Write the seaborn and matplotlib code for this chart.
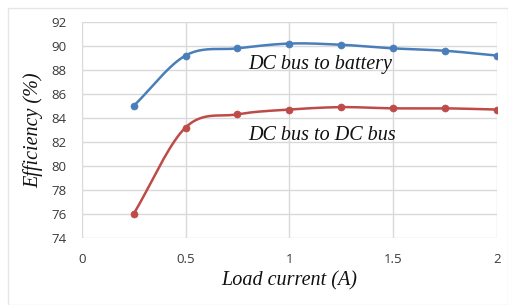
import numpy as np
import pandas as pd
import seaborn as sns
import matplotlib.pyplot as plt
from matplotlib.patches import Rectangle

# values
load_current = [0.25, 0.5, 0.75, 1.0, 1.25, 1.5, 1.75, 2.0]
eff_battery = [85.0, 89.2, 89.8, 90.2, 90.1, 89.8, 89.6, 89.2]
eff_dcbus = [76.0, 83.2, 84.3, 84.7, 84.9, 84.8, 84.8, 84.7]
x_ticks = [0, 0.5, 1, 1.5, 2]
x_tick_labels = ['0', '0.5', '1', '1.5', '2']
y_ticks = [74, 76, 78, 80, 82, 84, 86, 88, 90, 92]

blue = '#4a7ebb'
red = '#be4b48'


def smooth(x, y, n=20):
    # Catmull-Rom curve through the points, like Excel's "smoothed line"
    x = np.asarray(x, float)
    y = np.asarray(y, float)
    px = np.concatenate([[2 * x[0] - x[1]], x, [2 * x[-1] - x[-2]]])
    py = np.concatenate([[2 * y[0] - y[1]], y, [2 * y[-1] - y[-2]]])
    t = np.linspace(0, 1, n)[:, None]
    xs, ys = [], []
    for i in range(1, len(px) - 2):
        for p, out in ((px, xs), (py, ys)):
            p0, p1, p2, p3 = p[i - 1], p[i], p[i + 1], p[i + 2]
            seg = 0.5 * ((2 * p1) + (-p0 + p2) * t + (2 * p0 - 5 * p1 + 4 * p2 - p3) * t ** 2
                         + (-p0 + 3 * p1 - 3 * p2 + p3) * t ** 3)
            out.append(seg.ravel())
    return np.concatenate(xs), np.concatenate(ys)


df = pd.DataFrame({'current': load_current, 'battery': eff_battery, 'dcbus': eff_dcbus})

sns.set_style('white')
plt.rcParams['font.family'] = ['Open Sans', 'DejaVu Sans']

fig = plt.figure(figsize=(5.08, 3.05), dpi=100)
ax = fig.add_axes([0.161, 0.22, 0.817, 0.708])

for col, c in (('battery', blue), ('dcbus', red)):
    sx, sy = smooth(df['current'], df[col])
    sns.lineplot(x=sx, y=sy, ax=ax, color=c, linewidth=1.8, estimator=None, sort=False)
    sns.scatterplot(x='current', y=col, data=df, ax=ax, color=c, s=26, edgecolor=c, zorder=3)

ax.set_xlim(0, 2)
ax.set_ylim(74, 92)
ax.set_xticks(x_ticks)
ax.set_xticklabels(x_tick_labels)
ax.set_yticks(y_ticks)
ax.grid(True, color='#d9d9d9', linewidth=1)
ax.set_axisbelow(True)
for s in ax.spines.values():
    s.set_visible(False)
ax.tick_params(axis='both', length=0, labelsize=9.5, colors='#3a3a3a')
ax.tick_params(axis='x', pad=11)
ax.tick_params(axis='y', pad=11)

serif = ['Liberation Serif', 'DejaVu Serif']
ax.set_xlabel('Load current (A)', fontsize=14.5, style='italic', family=serif, color='#111111', labelpad=4)
ax.set_ylabel('Efficiency (%)', fontsize=14.5, style='italic', family=serif, color='#111111', labelpad=6)

ax.text(0.8, 88.45, 'DC bus to battery', fontsize=14.5, style='italic', family=serif, color='#111111', va='center')
ax.text(0.8, 82.55, 'DC bus to DC bus', fontsize=14.5, style='italic', family=serif, color='#111111', va='center')

# faint frame around the whole chart
fig.patches.append(Rectangle((0.016, 0.0), 0.984, 0.975, transform=fig.transFigure,
                             fill=False, edgecolor='#e6e6e6', linewidth=1))

fig.savefig('out.png', dpi=100)
